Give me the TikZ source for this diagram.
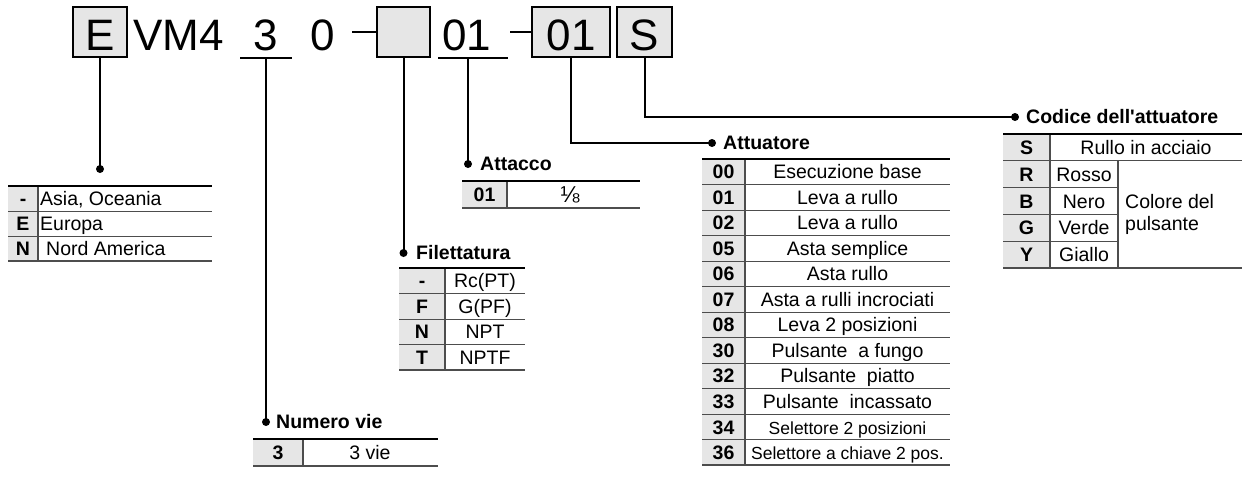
\documentclass[tikz,border=0pt]{standalone}
\usepackage{fontspec}
\setmainfont{Liberation Sans}
\definecolor{boxgray}{HTML}{E6E6E6}
\definecolor{linegray}{HTML}{4D4D4D}
\begin{document}
\begin{tikzpicture}[x=1pt,y=-1pt,
  big/.style={font=\fontsize{44}{44}\selectfont, inner sep=0},
  topbox/.style={draw, line width=1.5pt, fill=boxgray, minimum height=50pt, inner sep=0, text height=36pt, text depth=0pt, font=\fontsize{44}{44}\selectfont},
  conn/.style={line width=2pt},
  uline/.style={line width=2pt},
  dashline/.style={line width=2.6pt},
  dot/.style={circle, fill=black, inner sep=0, minimum size=8pt},
  hdr/.style={anchor=west, inner sep=0, font=\bfseries\fontsize{19.5}{22}\selectfont},
  cell/.style={inner sep=0, text height=14pt, text depth=0pt, font=\fontsize{19.5}{22}\selectfont},
  code/.style={cell, font=\bfseries\fontsize{19.5}{22}\selectfont},
  smallcell/.style={cell, font=\fontsize{17.5}{20}\selectfont},
  topline/.style={line width=2pt},
  rowline/.style={line width=1pt, draw=linegray},
  botline/.style={line width=1.3pt, draw=linegray},
  colline/.style={line width=1.5pt, draw=linegray},
]
\useasboundingbox (0,0) rectangle (1246,477);

% ---------- top code row ----------
\node[topbox, minimum width=54pt] (bE) at (100,32) {E};
\node[big, anchor=base west] (vm) at (133,50) {VM4};
\node[big, anchor=base] (n3) at (266,50) {3};
\coordinate (u3a) at (240,58); \coordinate (u3b) at (292,58);
\draw[uline] (u3a) -- (u3b);
\node[big, anchor=base] (n0) at (323,50) {0};
\node[topbox, minimum width=53pt] (bB) at (403.5,32) {};
\coordinate (d1) at (352,32);
\draw[dashline] (d1) -- (bB.west);
\node[big, anchor=base] (n01) at (466.5,50) {01};
\coordinate (u01a) at (438,58); \coordinate (u01b) at (508,58);
\draw[uline] (u01a) -- (u01b);
\node[topbox, minimum width=78pt] (b01) at (571,32) {01};
\coordinate (d2) at (510,32);
\draw[dashline] (d2) -- (b01.west);
\node[topbox, minimum width=55pt] (bS) at (644.5,32) {S};

% ---------- connectors ----------
\node[dot] (dotE) at (100,169) {};
\draw[conn] (bE.south) -- (dotE.center);
\coordinate (c3) at (266,58);
\node[dot] (dot3) at (266,422) {};
\draw[conn] (c3) -- (dot3.center);
\node[dot] (dotB) at (403.5,253) {};
\draw[conn] (bB.south) -- (dotB.center);
\coordinate (c01) at (468,58);
\node[dot] (dotA) at (468,164) {};
\draw[conn] (c01) -- (dotA.center);
\node[dot] (dotAt) at (712,143) {};
\draw[conn] (b01.south) |- (dotAt.center);
\node[dot] (dotC) at (1015,117) {};
\draw[conn] (bS.south) |- (dotC.center);

% ---------- headers ----------
\node[hdr] (hA) at (480,164) {Attacco};
\node[hdr] (hF) at (416,253) {Filettatura};
\node[hdr] (hN) at (276,422) {Numero vie};
\node[hdr] (hAt) at (723,143) {Attuatore};
\node[hdr] (hC) at (1026,117) {Codice dell\textquotesingle attuatore};

% ---------- region table ----------
\fill[boxgray] (8,186) rectangle (38,261);
\draw[rowline] (8,211) -- (212,211);
\draw[rowline] (8,236) -- (212,236);
\draw[colline] (38,186) -- (38,261);
\draw[topline] (8,186) -- (212,186);
\draw[botline] (8,261) -- (212,261);
\node[code] (r1c) at (23,198.5) {-};
\node[code] (r2c) at (23,223.5) {E};
\node[code] (r3c) at (23,248.5) {N};
\node[cell, anchor=west] (r1v) at (40,198.5) {Asia, Oceania};
\node[cell, anchor=west] (r2v) at (40,223.5) {Europa};
\node[cell, anchor=west] (r3v) at (46,248.5) {Nord America};

% ---------- Attacco table ----------
\fill[boxgray] (462,181) rectangle (507,208);
\draw[colline] (507,181) -- (507,208);
\draw[topline] (462,181) -- (640,181);
\draw[botline] (462,208) -- (640,208);
\node[code] (ac) at (484.5,194.5) {01};
\node[inner sep=0, font=\fontsize{23}{24}\selectfont] (av) at (570,195) {⅛};

% ---------- Filettatura table ----------
\fill[boxgray] (399,268) rectangle (445,370);
\foreach \k in {1,2,3} \draw[rowline] (399,{268+25.5*\k}) -- (525,{268+25.5*\k});
\draw[colline] (445,268) -- (445,370);
\draw[topline] (399,268) -- (525,268);
\draw[botline] (399,370) -- (525,370);
\foreach \c/\v [count=\i] in {-/Rc(PT), F/G(PF), N/NPT, T/NPTF} {
  \node[code] (fc\i) at (422,{268+25.5*\i-12.75}) {\c};
  \node[cell] (fv\i) at (485,{268+25.5*\i-12.75}) {\v};
}

% ---------- Numero vie table ----------
\fill[boxgray] (253,439) rectangle (303,466);
\draw[colline] (303,439) -- (303,466);
\draw[topline] (253,439) -- (438,439);
\draw[botline] (253,466) -- (438,466);
\node[code] (nc) at (278,452.5) {3};
\node[cell] (nv) at (370,452.5) {3 vie};

% ---------- Attuatore table ----------
\fill[boxgray] (702,159) rectangle (745,465);
\foreach \k in {1,...,11} \draw[rowline] (702,{159+25.5*\k}) -- (950,{159+25.5*\k});
\draw[colline] (745,159) -- (745,465);
\draw[topline] (702,159) -- (950,159);
\draw[botline] (702,465) -- (950,465);
\foreach \c/\v [count=\i] in {00/Esecuzione base, 01/Leva a rullo, 02/Leva a rullo, 05/Asta semplice, 06/Asta rullo, 07/Asta a rulli incrociati, 08/Leva 2 posizioni, 30/Pulsante~ a fungo, 32/Pulsante~ piatto, 33/Pulsante~ incassato} {
  \node[code] (tc\i) at (723.5,{159+25.5*\i-12.75}) {\c};
  \node[cell] (tv\i) at (847.5,{159+25.5*\i-12.75}) {\v};
}
\node[code] (tc11) at (723.5,427.25) {34};
\node[smallcell] (tv11) at (847.5,427.25) {Selettore 2 posizioni};
\node[code] (tc12) at (723.5,452.75) {36};
\node[smallcell] (tv12) at (847.5,452.75) {Selettore a chiave 2 pos.};

% ---------- Codice table ----------
\fill[boxgray] (1003,134) rectangle (1050,268);
\draw[rowline] (1003,160.8) -- (1242,160.8);
\foreach \y in {187.6,214.4,241.2} \draw[rowline] (1003,\y) -- (1118,\y);
\draw[colline] (1050,134) -- (1050,268);
\draw[colline] (1118,160.8) -- (1118,268);
\draw[topline] (1003,134) -- (1242,134);
\draw[botline] (1003,268) -- (1242,268);
\node[code] (sc) at (1026.5,147.4) {S};
\node[cell] (sv) at (1146,147.4) {Rullo in acciaio};
\foreach \c/\v [count=\i] in {R/Rosso, B/Nero, G/Verde, Y/Giallo} {
  \node[code] (kc\i) at (1026.5,{160.8+26.8*\i-13.4}) {\c};
  \node[cell] (kv\i) at (1084,{160.8+26.8*\i-13.4}) {\v};
}
\node[anchor=west, inner sep=0, align=left, font=\fontsize{19.5}{22}\selectfont] (kcol) at (1125,214) {Colore del\\pulsante};
\end{tikzpicture}
\end{document}
